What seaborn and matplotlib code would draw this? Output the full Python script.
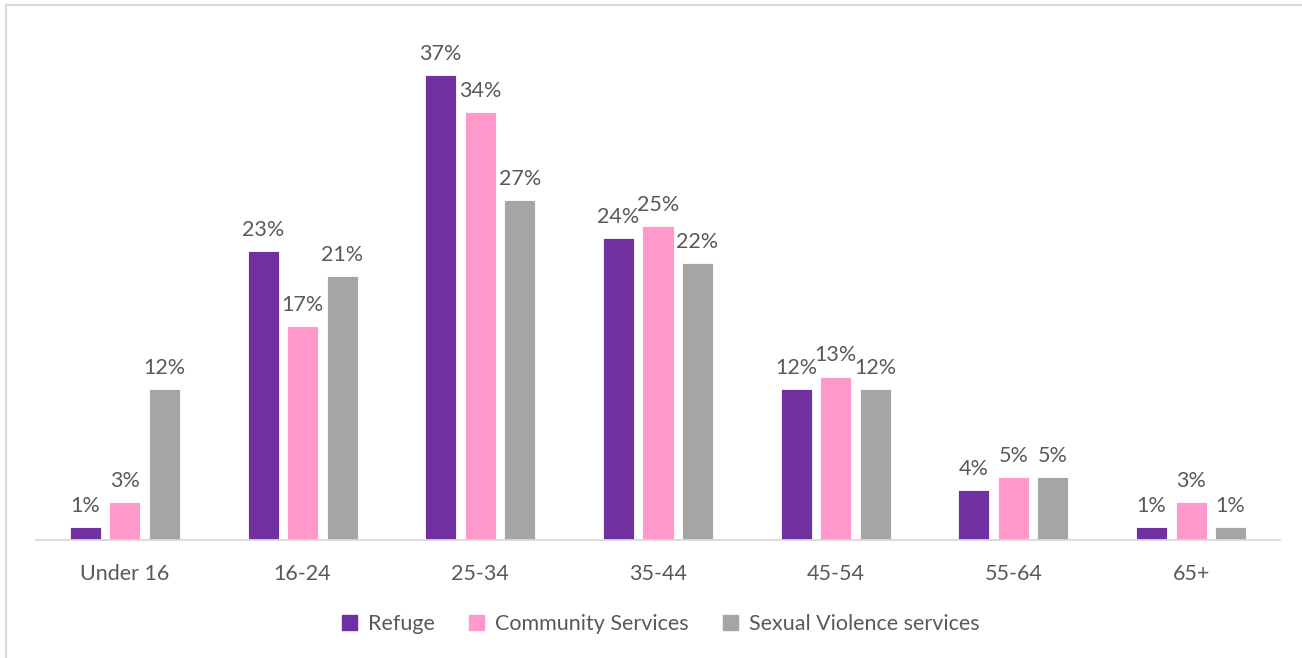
import matplotlib
matplotlib.use("Agg")
import matplotlib.pyplot as plt
from matplotlib.patches import Rectangle
import seaborn as sns
import pandas as pd

age_groups = ["Under 16", "16-24", "25-34", "35-44", "45-54", "55-64", "65+"]
services = ["Refuge", "Community Services", "Sexual Violence services"]
refuge = [1, 23, 37, 24, 12, 4, 1]
community = [3, 17, 34, 25, 13, 5, 3]
sexual_violence = [12, 21, 27, 22, 12, 5, 1]
colors = ["#7030A0", "#FF99CC", "#A5A5A5"]

rows = []
for svc, vals in zip(services, [refuge, community, sexual_violence]):
    for age, v in zip(age_groups, vals):
        rows.append({"age": age, "service": svc, "value": v})
df = pd.DataFrame(rows)

sns.set_theme(style="white")
plt.rcParams["font.family"] = ["Lato", "DejaVu Sans"]
text_color = "#595959"

W, H = 1302, 658
fig = plt.figure(figsize=(W / 100, H / 100), dpi=100)
ax = fig.add_axes([36 / W, 1 - 540 / H, (1280 - 36) / W, (540 - 37) / H])

sns.barplot(data=df, x="age", y="value", hue="service", order=age_groups,
            hue_order=services, palette=colors, saturation=1, width=0.667, gap=0.215,
            edgecolor="white", linewidth=0.6, legend=False, ax=ax, errorbar=None)

ax.set_ylim(0, 40)
ax.set_xlim(-0.5, len(age_groups) - 0.5)
ax.set_xlabel("")
ax.set_ylabel("")
ax.set_yticks([])
for s in ["top", "right", "left"]:
    ax.spines[s].set_visible(False)
ax.spines["bottom"].set_color("#D9D9D9")
ax.spines["bottom"].set_linewidth(1.3)
ax.tick_params(axis="x", length=0, pad=17, labelsize=15.5, labelcolor=text_color)

for container in ax.containers:
    ax.bar_label(container, labels=[f"{v:.0f}%" for v in container.datavalues],
                 padding=8, fontsize=15.5, color=text_color)

handles = [Rectangle((0, 0), 1, 1, color=c) for c in colors]
fig.legend(handles, services, loc="center", bbox_to_anchor=(661 / W, 1 - 624 / H),
           ncol=3, frameon=False, fontsize=15.5, labelcolor=text_color,
           handlelength=0.7, handleheight=0.7, handletextpad=0.5, columnspacing=1.6)

# outer chart-area border
fig.patches.append(Rectangle((6 / W, -0.01), 1.0, 1 - 5 / H + 0.01,
                             transform=fig.transFigure, fill=False,
                             edgecolor="#D9D9D9", linewidth=1.5))

fig.savefig("out.png", dpi=100, facecolor="white")
